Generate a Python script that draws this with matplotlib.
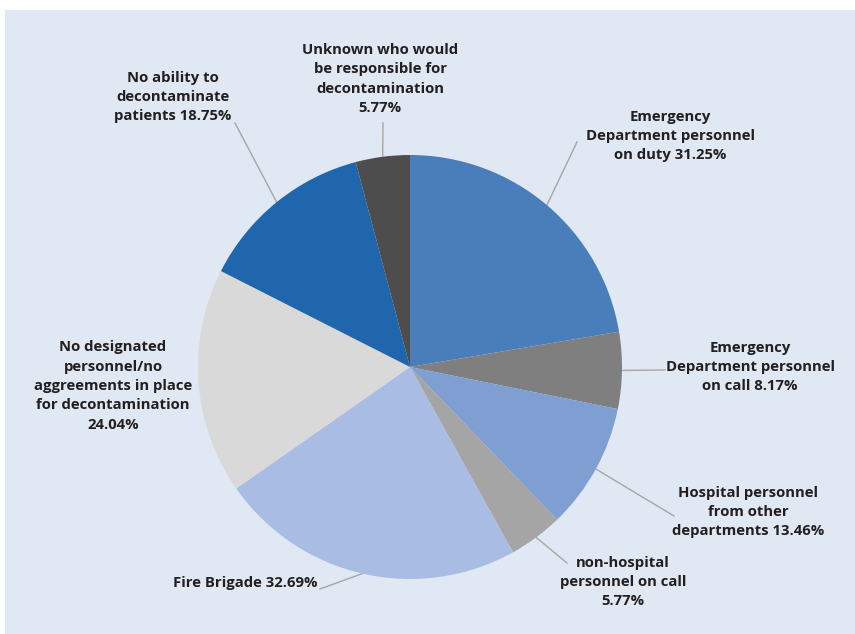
import numpy as np
import matplotlib.pyplot as plt
from matplotlib.patches import Rectangle

plt.rcParams['font.family'] = ['Open Sans', 'DejaVu Sans']

labels = [
    "Emergency\nDepartment personnel\non duty 31.25%",
    "Emergency\nDepartment personnel\non call 8.17%",
    "Hospital personnel\nfrom other\ndepartments 13.46%",
    "non-hospital\npersonnel on call\n5.77%",
    "Fire Brigade 32.69%",
    "No designated\npersonnel/no\naggreements in place\nfor decontamination\n24.04%",
    "No ability to\ndecontaminate\npatients 18.75%",
    "Unknown who would\nbe responsible for\ndecontamination\n5.77%",
]
values = [31.25, 8.17, 13.46, 5.77, 32.69, 24.04, 18.75, 5.77]
colors = ["#4a7ebb", "#7f7f7f", "#7f9fd3", "#a5a5a5",
          "#a9bce4", "#d9d9d9", "#1f66ad", "#4d4d4d"]

# label layout in pixel coords (x, y from top): text centre, leader end
text_pos = [(670, 136), (750, 367), (748, 512), (623, 582),
            (245, 583), (113, 386), (173, 97), (380, 79)]
line_end = [(577, 142), (665, 370), (674, 516), (567, 563),
            (320, 589), (None, None), (235, 123), (383, 123)]

W, H = 855, 634
fig = plt.figure(figsize=(W / 100, H / 100), dpi=100)
fig.patch.set_facecolor("white")

ax = fig.add_axes([0, 0, 1, 1])

center = (410, H - 367)
radius = 212
wedges, _ = ax.pie(values, colors=colors, startangle=90, counterclock=False,
                   center=center, radius=radius, frame=True,
                   wedgeprops=dict(linewidth=0, zorder=2))
ax.add_patch(Rectangle((5, 0), W - 5, H - 10, facecolor="#dfe8f3",
                       edgecolor="none", zorder=0))
ax.set_xlim(0, W)
ax.set_ylim(0, H)
ax.set_aspect("equal")
ax.axis("off")

for w, lab, (tx, ty), (lx, ly) in zip(wedges, labels, text_pos, line_end):
    mid = np.deg2rad((w.theta1 + w.theta2) / 2)
    px = center[0] + radius * np.cos(mid)
    py = center[1] + radius * np.sin(mid)
    if lx is not None:
        ax.plot([px, lx], [py, H - ly], color="#a6a6a6", lw=1, zorder=1)
    ax.text(tx, H - ty, lab, ha="center", va="center", fontsize=10.7,
            fontweight="bold", color="#231f20", linespacing=1.48, zorder=3)

fig.savefig("out.png", dpi=100)
